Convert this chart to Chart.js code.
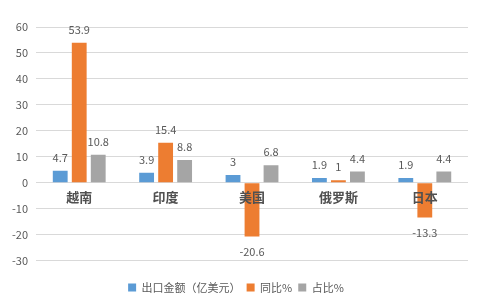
<!DOCTYPE html>
<html><head><meta charset="utf-8">
<script src="https://cdn.jsdelivr.net/npm/chart.js@4/dist/chart.umd.min.js"></script>
<style>html,body{margin:0;padding:0;background:#fff}#wrap{width:481px;height:307px}</style>
</head><body><div id="wrap"><canvas id="c"></canvas></div>
<script>
const categories = ['越南', '印度', '美国', '俄罗斯', '日本'];
const exportAmount = [4.7, 3.9, 3, 1.9, 1.9];
const yoyPct = [53.9, 15.4, -20.6, 1, -13.3];
const sharePct = [10.8, 8.8, 6.8, 4.4, 4.4];
const seriesNames = ['出口金额（亿美元）', '同比%', '占比%'];
const yTicks = {min: -30, max: 60, step: 10};

const FONT = '"Noto Sans CJK SC", "Liberation Sans", sans-serif';

const labelPlugin = {
  id: 'barLabels',
  afterDatasetsDraw(chart) {
    const ctx = chart.ctx;
    ctx.save();
    ctx.font = '11px ' + FONT;
    ctx.fillStyle = '#595959';
    ctx.textAlign = 'center';
    ctx.textBaseline = 'middle';
    chart.data.datasets.forEach((ds, i) => {
      const meta = chart.getDatasetMeta(i);
      meta.data.forEach((bar, j) => {
        const v = ds.data[j];
        const y = v >= 0 ? bar.y - 13 : bar.y + 15;
        ctx.fillText(String(v), bar.x, y);
      });
    });
    // category labels drawn over the bars, just below the zero line
    const xs = chart.scales.x, ys = chart.scales.y;
    const y0 = ys.getPixelForValue(0);
    ctx.font = 'bold 13px ' + FONT;
    ctx.fillStyle = '#505050';
    chart.data.labels.forEach((lab, i) => {
      ctx.fillText(lab, xs.getPixelForValue(i), y0 + 14);
    });
    ctx.restore();
  }
};

new Chart(document.getElementById('c'), {
  type: 'bar',
  data: {
    labels: categories,
    datasets: [
      {label: seriesNames[0], data: exportAmount, backgroundColor: '#5B9BD5'},
      {label: seriesNames[1], data: yoyPct, backgroundColor: '#ED7D31'},
      {label: seriesNames[2], data: sharePct, backgroundColor: '#A5A5A5'}
    ]
  },
  options: {
    responsive: true,
    maintainAspectRatio: false,
    animation: false,
    datasets: {bar: {categoryPercentage: 0.66, barPercentage: 0.78}},
    layout: {padding: {left: 4, right: 13, top: 27, bottom: 4}},
    plugins: {
      legend: {
        position: 'bottom',
        title: {display: true, text: ' ', font: {size: 1}, padding: {top: 0, bottom: 14}},
        labels: {boxWidth: 8, boxHeight: 8, padding: 6, color: '#595959', font: {family: FONT, size: 11}}
      },
      tooltip: {enabled: false}
    },
    scales: {
      x: {
        position: {y: 0},
        grid: {display: false},
        border: {display: false},
        ticks: {display: false}
      },
      y: {
        min: yTicks.min, max: yTicks.max,
        ticks: {stepSize: yTicks.step, color: '#595959', font: {family: FONT, size: 11}, padding: 8},
        grid: {color: '#D9D9D9', lineWidth: 1, drawTicks: false},
        border: {display: false}
      }
    }
  },
  plugins: [labelPlugin]
});
</script></body></html>
